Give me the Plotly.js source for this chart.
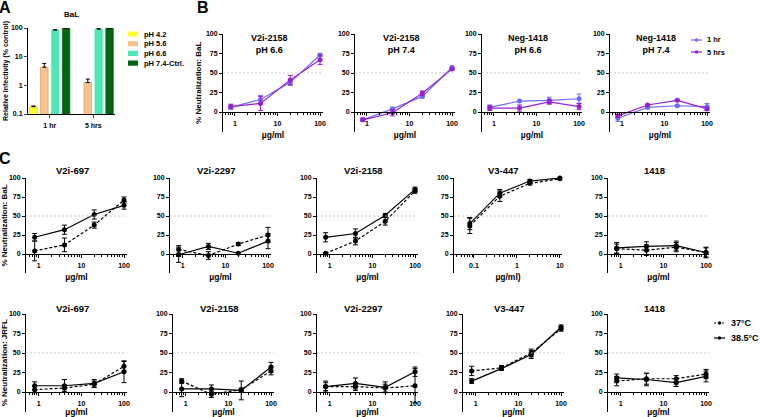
<!DOCTYPE html>
<html>
<head>
<meta charset="utf-8">
<script src="https://cdn.plot.ly/plotly-3.0.1.min.js"></script>
<style>
  body { margin: 0; background: #fff; }
  #chart { width: 760px; height: 417px; }
</style>
</head>
<body>
<div id="chart"></div>
<script>
// ---- data: panel A (relative infectivity, log scale) ----
var aGroups = ['1 hr', '5 hrs'];
var aSeries = ['pH 4.2', 'pH 5.6', 'pH 6.6', 'pH 7.4-Ctrl.'];
var aColors = ['#ffff33', '#f8c28e', '#4fe8b4', '#006410'];
var aValues = [[0.18, null], [4.3, 1.25], [85, 92], [100, 100]];
var aErrors = [[0.01, 0], [1.5, 0.4], [2, 2], [0, 0]];

// ---- data: panel B (BaL, pH / time) ----
var bConc = [0.8, 4, 20, 100];
var bTitles = ['V2i-2158<br>pH 6.6', 'V2i-2158<br>pH 7.4', 'Neg-1418<br>pH 6.6', 'Neg-1418<br>pH 7.4'];
var b1hr = [[6, 16, 38, 73], [-10, 4, 20, 57], [6, 14, 15, 17], [-8, 6, 8, 7]];
var b1hrErr = [[2, 5, 4, 2], [2, 2, 2, 2], [3, 1, 4, 6], [4, 2, 1, 4]];
var b5hrs = [[7, 11, 41, 67], [-10, -1, 24, 55], [5, 5, 13, 7], [-5, 9, 15, 4]];
var b5hrsErr = [[3, 9, 6, 6], [2, 4, 3, 1], [3, 4, 3, 4], [2, 1, 1, 2]];

// ---- data: panel C (37 vs 38.5 C) ----
var cConc = [0.8, 4, 20, 100];
var cConcV3 = [0.08, 0.4, 2, 10];
var cTitlesBaL = ['V2i-697', 'V2i-2297', 'V2i-2158', 'V3-447', '1418'];
var cTitlesJRFL = ['V2i-697', 'V2i-2158', 'V2i-2297', 'V3-447', '1418'];
var bal37 = [[4, 12, 38, 71], [6, -2, 13, 25], [1, 17, 43, 83], [37, 76, 93, 99], [7, 5, 9, 2]];
var bal37Err = [[13, 9, 4, 4], [5, 5, 2, 10], [1, 5, 5, 3], [10, 7, 2, 1], [6, 7, 6, 6]];
var bal385 = [[22, 32, 52, 64], [-1, 10, 1, 17], [22, 27, 51, 85], [40, 80, 96, 100], [8, 10, 11, 2]];
var bal385Err = [[5, 6, 6, 5], [10, 4, 1, 10], [6, 6, 2, 3], [8, 5, 2, 1], [7, 6, 6, 7]];
var jrfl37 = [[3, 5, 10, 33], [14, -3, 3, 27], [7, 7, 5, 8], [27, 31, 50, 81], [14, 17, 17, 23]];
var jrfl37Err = [[4, 4, 4, 6], [3, 4, 2, 5], [5, 5, 5, 22], [6, 3, 5, 3], [6, 7, 4, 6]];
var jrfl385 = [[8, 8, 11, 26], [4, 4, 2, 32], [7, 11, 6, 26], [14, 30, 48, 83], [18, 16, 12, 20]];
var jrfl385Err = [[5, 8, 5, 14], [10, 5, 12, 6], [7, 7, 7, 6], [3, 2, 5, 3], [5, 8, 5, 7]];

var tempNames = ['37°C', '38.5°C'];
var timeNames = ['1 hr', '5 hrs'];
var timeColors = ['#6c6ef0', '#9a1fd4'];

// ---- helpers ----
var W = 760, H = 417;
var FONT = 'Arial, "Liberation Sans", sans-serif';
function px(x) { return x / W; }
function py(y) { return 1 - y / H; }
function tf(size) { return {family: FONT, size: size, color: '#000', weight: 'bold'}; }
// text label in paper pixels, always centred vertically
function label(text, x, y, size, xanchor) {
  layout.annotations.push({text: '<b>' + text + '</b>', x: px(x), y: py(y), xref: 'paper', yref: 'paper',
    xanchor: xanchor || 'center', yanchor: 'middle', showarrow: false, font: tf(size)});
}

var traces = [];
var layout = {
  width: W, height: H,
  margin: {l: 0, r: 0, t: 0, b: 0},
  paper_bgcolor: '#fff', plot_bgcolor: 'rgba(0,0,0,0)',
  showlegend: false,
  bargap: 0.0, bargroupgap: 0.3, barmode: 'group',
  shapes: [], annotations: []
};

// ---- panel A ----
for (var i = 0; i < aSeries.length; i++) {
  traces.push({
    type: 'bar', x: aGroups, y: aValues[i], name: aSeries[i],
    xaxis: 'x', yaxis: 'y',
    marker: {color: aColors[i], line: {color: i == 0 ? '#c8c800' : (i == 1 ? '#d9955a' : aColors[i]), width: 0.6}},
    error_y: {type: 'data', array: aErrors[i], arrayminus: [0, 0], symmetric: false, color: '#000', thickness: 1, width: 2}
  });
}
layout.xaxis = {domain: [px(28), px(115)], anchor: 'y', showline: true, linecolor: '#000', linewidth: 1,
  ticks: 'outside', ticklen: 3, tickfont: tf(7), ticklabelstandoff: 2, fixedrange: true};
layout.yaxis = {domain: [py(114), py(28)], anchor: 'x', type: 'log', range: [-1, 2],
  tickvals: [0.1, 1, 10, 100], ticktext: ['0.1', '1', '10', '100'],
  showline: true, linecolor: '#000', linewidth: 1, ticks: 'outside', ticklen: 3, showgrid: false,
  tickfont: tf(7), title: {text: 'Relative Infectivity (% control)', font: tf(7), standoff: 1}};
label('BaL', 71, 14, 8);
for (var i = 0; i < aSeries.length; i++) {
  var yc = 34 + i * 9.7;
  layout.shapes.push({type: 'rect', xref: 'paper', yref: 'paper', x0: px(128), x1: px(138), y0: py(yc + 2.6), y1: py(yc - 2.6),
    fillcolor: aColors[i], line: {width: 0}});
  label(aSeries[i], 142, yc, 7.5, 'left');
}

// ---- curve subplot helper ----
function curveAxes(n, left, right, top, bottom, zeroY, xr, xTitle, yTitle) {
  layout['xaxis' + n] = {domain: [px(left), px(right)], anchor: 'free', position: py(zeroY), type: 'log', range: xr,
    dtick: 1, tick0: 0, showline: true, linecolor: '#000', linewidth: 1, ticks: 'outside', ticklen: 3, tickcolor: '#000',
    minor: {dtick: 'D1', ticks: 'outside', ticklen: 2, tickcolor: '#000', showgrid: false},
    showgrid: false, zeroline: false, tickfont: tf(7), ticklabelstandoff: 2, fixedrange: true,
    title: {text: xTitle, font: tf(8.5), standoff: 5}};
  var ya = {domain: [py(bottom), py(top)], anchor: 'x' + n, range: [-25, 100], tickvals: [0, 25, 50, 75, 100],
    showline: true, linecolor: '#000', linewidth: 1, ticks: 'outside', ticklen: 3, tickcolor: '#000',
    showgrid: false, zeroline: false, tickfont: tf(7), fixedrange: true};
  if (yTitle) ya.title = {text: yTitle, font: tf(8), standoff: 3};
  layout['yaxis' + n] = ya;
  layout.shapes.push({type: 'line', xref: 'x' + n + ' domain', yref: 'y' + n, x0: 0, x1: 1, y0: 50, y1: 50,
    line: {color: '#bcbcbc', width: 0.8, dash: '2px,2px'}});
}
function curve(n, xs, ys, err, color, dash, name) {
  traces.push({
    type: 'scatter', mode: 'lines+markers', x: xs, y: ys, name: name,
    xaxis: 'x' + n, yaxis: 'y' + n, cliponaxis: false,
    line: {color: color, width: 1.2, dash: dash},
    marker: {color: color, size: 5, symbol: 'circle'},
    error_y: {type: 'data', array: err, color: color, thickness: 1, width: 2.5}
  });
}
function subTitle(n, text, y, size) {
  layout.annotations.push({text: '<b>' + text + '</b>', xref: 'x' + n + ' domain', x: 0.46, yref: 'paper', y: py(y),
    yanchor: 'middle', showarrow: false, font: tf(size), align: 'center'});
}

// ---- panel B ----
var bLeft = [223, 355, 482, 610];
for (var i = 0; i < 4; i++) {
  var n = 2 + i;
  curveAxes(n, bLeft[i], bLeft[i] + 100, 34, 131.5, 112, [-0.28, 2.07], 'µg/ml', i == 0 ? '% Neutralization: BaL' : null);
  curve(n, bConc, b1hr[i], b1hrErr[i], timeColors[0], 'solid', timeNames[0]);
  curve(n, bConc, b5hrs[i], b5hrsErr[i], timeColors[1], 'solid', timeNames[1]);
  subTitle(n, bTitles[i], 43.5, 9);
}
for (var k = 0; k < 2; k++) {
  var ly = 40 + k * 12;
  layout.shapes.push({type: 'line', xref: 'paper', yref: 'paper', x0: px(691), x1: px(702), y0: py(ly), y1: py(ly),
    line: {color: timeColors[k], width: 1.2}});
  layout.shapes.push({type: 'circle', xref: 'paper', yref: 'paper', x0: px(694.8), x1: px(698.2), y0: py(ly + 1.7), y1: py(ly - 1.7),
    fillcolor: timeColors[k], line: {width: 0}});
  label(timeNames[k], 705, ly, 7.5, 'left');
}

// ---- panel C ----
var row1Left = [26, 170, 317, 454, 608];
var row2Left = [26, 173, 317, 463, 608];
for (var i = 0; i < 5; i++) {
  var n = 6 + i;
  var isV3 = (i == 3);
  curveAxes(n, row1Left[i], isV3 ? 562 : row1Left[i] + 101, 178, 273, 254,
    isV3 ? [-1.465, 1.05] : [-0.3, 2.07], isV3 ? 'µg/ml)' : 'µg/ml', i == 0 ? '% Neutralization: BaL' : null);
  var xs = isV3 ? cConcV3 : cConc;
  curve(n, xs, bal37[i], bal37Err[i], '#000', '3px,2px', tempNames[0]);
  curve(n, xs, bal385[i], bal385Err[i], '#000', 'solid', tempNames[1]);
  subTitle(n, cTitlesBaL[i], 170, 9.5);
}
for (var i = 0; i < 5; i++) {
  var n = 11 + i;
  curveAxes(n, row2Left[i], row2Left[i] + 101, 314, 411.5, 392, [-0.3, 2.07], 'µg/ml', i == 0 ? '% Neutralization: JRFL' : null);
  curve(n, cConc, jrfl37[i], jrfl37Err[i], '#000', '3px,2px', tempNames[0]);
  curve(n, cConc, jrfl385[i], jrfl385Err[i], '#000', 'solid', tempNames[1]);
  subTitle(n, cTitlesJRFL[i], 308, 9.5);
}
for (var k = 0; k < 2; k++) {
  var ly = 323 + k * 15;
  layout.shapes.push({type: 'line', xref: 'paper', yref: 'paper', x0: px(714), x1: px(725), y0: py(ly), y1: py(ly),
    line: {color: '#000', width: 1.2, dash: k == 0 ? '2px,2px' : 'solid'}});
  layout.shapes.push({type: 'circle', xref: 'paper', yref: 'paper', x0: px(717.8), x1: px(721.2), y0: py(ly + 1.7), y1: py(ly - 1.7),
    fillcolor: '#000', line: {width: 0}});
  label(tempNames[k], 729, ly, 9, 'left');
}

// panel letters
label('A', 5, 8, 16);
label('B', 203, 8, 16);
label('C', 5, 158, 16);

Plotly.newPlot('chart', traces, layout, {displayModeBar: false, staticPlot: true});
</script>
</body>
</html>
